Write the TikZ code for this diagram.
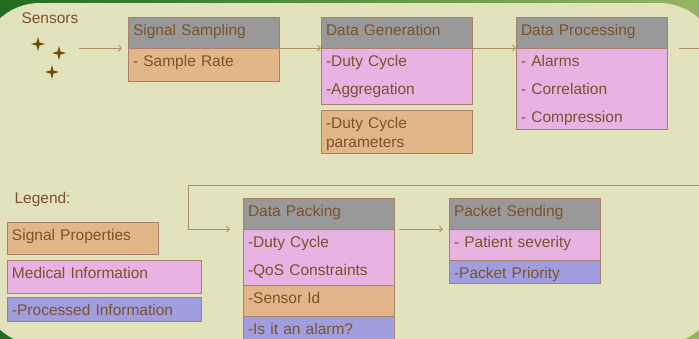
\documentclass[tikz,border=0pt]{standalone}
\usepackage{fontspec}
\setmainfont{Liberation Sans}
\usetikzlibrary{arrows.meta,positioning}
\definecolor{paper}{RGB}{226,226,189}
\definecolor{leafdark}{RGB}{34,108,34}
\definecolor{leaflight}{RGB}{148,182,98}
\definecolor{head}{RGB}{153,153,153}
\definecolor{sig}{RGB}{227,182,137}
\definecolor{med}{RGB}{232,178,226}
\definecolor{proc}{RGB}{160,158,222}
\definecolor{edge}{RGB}{165,130,105}
\definecolor{ink}{RGB}{122,82,44}
\definecolor{wire}{RGB}{172,142,100}
\definecolor{sparkle}{RGB}{110,75,0}

\begin{document}
\begin{tikzpicture}[
    x=1pt, y=-1pt,
    block/.style={
      rectangle,
      draw=edge,
      line width=0.8pt,
      outer sep=0pt,
      text=ink,
      font=\fontsize{15.5}{28}\selectfont,
      inner xsep=5pt,
      inner ysep=0pt,
      text height=18pt,
      text width=141pt,
      align=left
    },
    block_head/.style={block, fill=head, anchor=north west, text depth=13pt},
    block_sig/.style={block, fill=sig},
    block_med/.style={block, fill=med},
    block_proc/.style={block, fill=proc},
    line/.style={draw=wire, line width=0.8pt, -{Straight Barb[length=3pt,width=6pt]}}
  ]
  \useasboundingbox (0,0) rectangle (699,338);
  \clip (0,0) rectangle (699,338);

  % Background
  \shade[left color=leafdark, right color=leaflight] (0,0) rectangle (699,338);
  \fill[paper, rounded corners=60pt] (-20,3) rectangle (719,345);

  % Sensors
  \node[text=ink, font=\fontsize{15.5}{18}\selectfont, anchor=base west] (sensors) at (18,23) {Sensors};
  \foreach \sx/\sy in {38/44, 59/53, 52/72}
    \fill[sparkle] (\sx,\sy) +(0,-7) -- +(1.5,-1.5) -- +(7,0) -- +(1.5,1.5)
      -- +(0,7) -- +(-1.5,1.5) -- +(-7,0) -- +(-1.5,-1.5) -- cycle;
  \coordinate (sensors_out) at (79,48);

  % First row
  \node[block_head] (ss_head) at (128,17) {Signal Sampling};
  \node[block_sig, below=0pt of ss_head, text depth=15pt] (ss_body) {- Sample Rate};

  \node[block_head] (dg_head) at (321,17) {Data Generation};
  \node[block_med, below=0pt of dg_head, text depth=38pt] (dg_body) {-Duty Cycle\\-Aggregation};
  \node[block_sig, below=6pt of dg_body, text depth=25pt,
        font=\fontsize{15.5}{19}\selectfont] (dg_param) {-Duty Cycle\\parameters};

  \node[block_head] (dp_head) at (516,17) {Data Processing};
  \node[block_med, below=0pt of dp_head, text depth=63pt] (dp_body) {- Alarms\\- Correlation\\- Compression};

  % Legend
  \node[text=ink, font=\fontsize{15.5}{18}\selectfont, anchor=base west] (legend) at (11,203) {Legend:};
  \node[block_sig, anchor=north west, text depth=14pt] (leg_sig) at (7,222) {Signal Properties};
  \node[block_med, anchor=north west, text width=184pt, text depth=15pt] (leg_med) at (7,260) {Medical Information};
  \node[block_proc, anchor=north west, text width=184pt, text depth=6pt] (leg_proc) at (7,297) {-Processed Information};

  % Second row
  \node[block_head] (pack_head) at (243,198) {Data Packing};
  \node[block_med, below=0pt of pack_head, text depth=38pt] (pack_med) {-Duty Cycle\\-QoS Constraints};
  \node[block_sig, below=0pt of pack_med, text depth=13pt] (pack_sig) {-Sensor Id};
  \node[block_proc, below=0pt of pack_sig, text depth=11pt] (pack_proc) {-Is it an alarm?};

  \node[block_head] (send_head) at (449,198) {Packet Sending};
  \node[block_med, below=0pt of send_head, text depth=13pt] (send_med) {- Patient severity};
  \node[block_proc, below=0pt of send_med, text depth=5pt] (send_proc) {-Packet Priority};

  % Arrows
  \draw[line, shorten >=6pt] (sensors_out) -- (ss_head.south west);
  \draw[line] (ss_head.south east) -- (dg_head.south west);
  \draw[line] (dg_head.south east) -- (dp_head.south west);
  \draw[line, shorten <=12pt, shorten >=13pt] (dp_head.south east) -- (720,48) |- (188,185) |- (pack_head.south west);
  \draw[line, shorten <=5pt, shorten >=6pt] (pack_head.south east) -- (send_head.south west);

\end{tikzpicture}
\end{document}
